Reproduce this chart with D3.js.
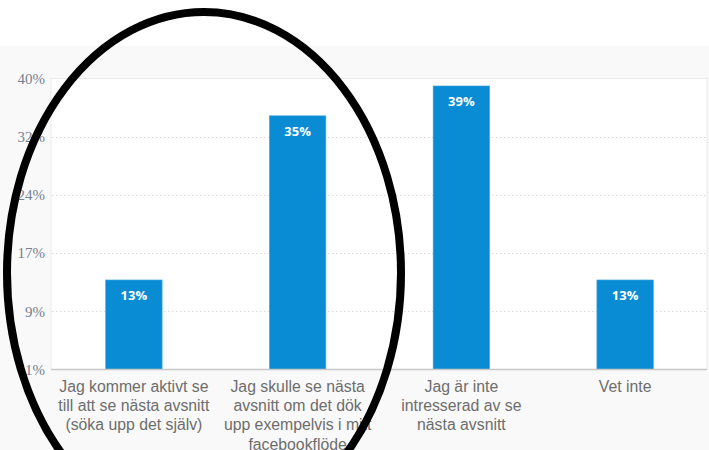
<!DOCTYPE html>
<html>
<head>
<meta charset="utf-8">
<script src="https://cdn.jsdelivr.net/npm/d3@7"></script>
<style>
  html, body { margin: 0; padding: 0; background: #ffffff; }
  svg { display: block; }
</style>
</head>
<body>
<svg id="chart" width="709" height="450"></svg>
<script>
// Survey answers and their shares (percent)
const categories = [
  ["Jag kommer aktivt se", "till att se nästa avsnitt", "(söka upp det själv)"],
  ["Jag skulle se nästa", "avsnitt om det dök", "upp exempelvis i mitt", "facebookflöde"],
  ["Jag är inte", "intresserad av se", "nästa avsnitt"],
  ["Vet inte"]
];
const values = [13, 35, 39, 13];
const valueLabels = ["13%", "35%", "39%", "13%"];

// Value axis: six evenly spaced ticks from 1% to 40%
const yTicks = [1, 8.8, 16.6, 24.4, 32.2, 40];
const yTickLabels = ["1%", "9%", "17%", "24%", "32%", "40%"];

const W = 709, H = 450;
const plot = { left: 51, right: 707, top: 78.5, bottom: 369.5 };

const svg = d3.select("#chart");

// panel background
svg.append("rect")
  .attr("x", 0).attr("y", 46).attr("width", W).attr("height", H - 46)
  .attr("fill", "#f9f9f9");

// plot area
svg.append("rect")
  .attr("x", plot.left).attr("y", plot.top)
  .attr("width", plot.right - plot.left).attr("height", plot.bottom - plot.top)
  .attr("fill", "#ffffff")
  .attr("stroke", "#ebebeb").attr("stroke-width", 1);

const x = d3.scaleBand()
  .domain(d3.range(categories.length))
  .range([plot.left + 1, plot.right])
  .padding(0);
const barW = x.step() * 0.345;

const y = d3.scaleLinear()
  .domain([yTicks[0], yTicks[yTicks.length - 1]])
  .range([plot.bottom, plot.top]);

// dotted gridlines
svg.append("g")
  .selectAll("line")
  .data(yTicks.slice(1, -1))
  .join("line")
  .attr("x1", plot.left + 1).attr("x2", plot.right - 1)
  .attr("y1", d => Math.round(y(d)) + 0.5).attr("y2", d => Math.round(y(d)) + 0.5)
  .attr("stroke", "#d8d8d8")
  .attr("stroke-width", 1)
  .attr("stroke-dasharray", "1.5,2.5");

// y axis labels
const yAxis = d3.axisLeft(y)
  .tickValues(yTicks)
  .tickFormat((d, i) => yTickLabels[i])
  .tickSize(0)
  .tickPadding(6);
const yg = svg.append("g")
  .attr("transform", `translate(${plot.left},0)`)
  .call(yAxis);
yg.select(".domain").remove();
yg.selectAll("text")
  .attr("fill", "#76808f")
  .attr("font-family", "'Liberation Serif', serif")
  .attr("font-size", 15);

// bars
svg.append("g")
  .selectAll("rect")
  .data(values)
  .join("rect")
  .attr("x", (d, i) => x(i) + x.bandwidth() / 2 - barW / 2)
  .attr("y", d => y(d))
  .attr("width", barW)
  .attr("height", d => plot.bottom - y(d))
  .attr("fill", "#0a8cd5")
  .attr("stroke", "#4aa8de")
  .attr("stroke-width", 0.6);

// value labels inside bars
svg.append("g")
  .selectAll("text")
  .data(values)
  .join("text")
  .attr("x", (d, i) => x(i) + x.bandwidth() / 2)
  .attr("y", d => y(d) + 20.5)
  .attr("text-anchor", "middle")
  .attr("fill", "#ffffff")
  .attr("font-family", "'Open Sans', sans-serif")
  .attr("font-weight", 700)
  .attr("font-size", 13)
  .text((d, i) => valueLabels[i]);

// bottom axis line
svg.append("line")
  .attr("x1", plot.left).attr("x2", plot.right)
  .attr("y1", plot.bottom).attr("y2", plot.bottom)
  .attr("stroke", "#c8c8c8").attr("stroke-width", 1.5);

// category labels (multi-line)
const xAxis = d3.axisBottom(x).tickSize(0).tickFormat("");
const xg = svg.append("g")
  .attr("transform", `translate(0,${plot.bottom})`)
  .call(xAxis);
xg.select(".domain").remove();
xg.selectAll(".tick").each(function (d) {
  const t = d3.select(this).append("text")
    .attr("text-anchor", "middle")
    .attr("fill", "#6d6d6d")
    .attr("font-family", "'Liberation Sans', Arial, sans-serif")
    .attr("font-size", 15.8);
  categories[d].forEach((line, k) => {
    t.append("tspan")
      .attr("x", 0)
      .attr("y", 22.5 + k * 19.2)
      .text(line);
  });
});

// hand-drawn style highlight ring around the first two answers
svg.append("ellipse")
  .attr("cx", 204).attr("cy", 273)
  .attr("rx", 197).attr("ry", 261)
  .attr("fill", "none")
  .attr("stroke", "#000000")
  .attr("stroke-width", 8);
</script>
</body>
</html>
